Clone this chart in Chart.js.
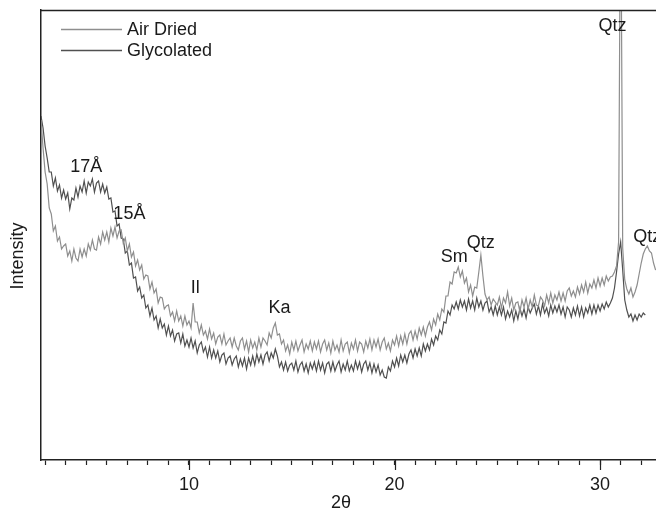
<!DOCTYPE html>
<html>
<head>
<meta charset="utf-8">
<script src="https://cdn.jsdelivr.net/npm/chart.js@4.4.0/dist/chart.umd.min.js"></script>
<style>
html,body{margin:0;padding:0;background:#fff;}
#wrap{width:656px;height:512px;position:relative;}
</style>
</head>
<body>
<div id="wrap"><canvas id="c" width="656" height="512"></canvas></div>
<script>
// 2θ (degrees)
const twoTheta = [
 2.8,2.9,
 3.0,3.1,3.2,3.3,3.4,3.5,3.6,3.7,3.8,3.9,
 4.0,4.1,4.2,4.3,4.4,4.5,4.6,4.7,4.8,4.9,
 5.0,5.1,5.2,5.3,5.4,5.5,5.6,5.7,5.8,5.9,
 6.0,6.1,6.2,6.3,6.4,6.5,6.6,6.7,6.8,6.9,
 7.0,7.1,7.2,7.3,7.4,7.5,7.6,7.7,7.8,7.9,
 8.0,8.1,8.2,8.3,8.4,8.5,8.6,8.7,8.8,8.9,
 9.0,9.1,9.2,9.3,9.4,9.5,9.6,9.7,9.8,9.9,
 10.0,10.1,10.2,10.3,10.4,10.5,10.6,10.7,10.8,10.9,
 11.0,11.1,11.2,11.3,11.4,11.5,11.6,11.7,11.8,11.9,
 12.0,12.1,12.2,12.3,12.4,12.5,12.6,12.7,12.8,12.9,
 13.0,13.1,13.2,13.3,13.4,13.5,13.6,13.7,13.8,13.9,
 14.0,14.1,14.2,14.3,14.4,14.5,14.6,14.7,14.8,14.9,
 15.0,15.1,15.2,15.3,15.4,15.5,15.6,15.7,15.8,15.9,
 16.0,16.1,16.2,16.3,16.4,16.5,16.6,16.7,16.8,16.9,
 17.0,17.1,17.2,17.3,17.4,17.5,17.6,17.7,17.8,17.9,
 18.0,18.1,18.2,18.3,18.4,18.5,18.6,18.7,18.8,18.9,
 19.0,19.1,19.2,19.3,19.4,19.5,19.6,19.7,19.8,19.9,
 20.0,20.1,20.2,20.3,20.4,20.5,20.6,20.7,20.8,20.9,
 21.0,21.1,21.2,21.3,21.4,21.5,21.6,21.7,21.8,21.9,
 22.0,22.1,22.2,22.3,22.4,22.5,22.6,22.7,22.8,22.9,
 23.0,23.1,23.2,23.3,23.4,23.5,23.6,23.7,23.8,23.9,
 24.0,24.1,24.2,24.3,24.4,24.5,24.6,24.7,24.8,24.9,
 25.0,25.1,25.2,25.3,25.4,25.5,25.6,25.7,25.8,25.9,
 26.0,26.1,26.2,26.3,26.4,26.5,26.6,26.7,26.8,26.9,
 27.0,27.1,27.2,27.3,27.4,27.5,27.6,27.7,27.8,27.9,
 28.0,28.1,28.2,28.3,28.4,28.5,28.6,28.7,28.8,28.9,
 29.0,29.1,29.2,29.3,29.4,29.5,29.6,29.7,29.8,29.9,
 30.0,30.1,30.2,30.3,30.4,30.5,30.6,30.7,30.8,30.9,
 31.0,31.1,31.2,31.3,31.4,31.5,31.6,31.7,31.8,31.9,
 32.0,32.1,32.2,32.3,32.4,32.5,32.6,32.7
];

// Intensity (arbitrary units), Air Dried
const airDried = [
 340,312,
 288,276,252,246,229,234,219,223,211,214,
 216,204,209,199,211,202,199,211,203,211,
 204,216,210,220,211,210,223,216,228,220,
 228,218,232,224,233,222,229,230,217,222,
 209,216,203,208,194,200,190,195,181,185,
 184,171,178,167,171,157,163,162,151,154,
 155,144,148,139,149,139,144,134,144,135,
 139,132,157,138,138,127,135,125,129,121,
 131,121,127,116,123,125,116,126,115,119,
 122,113,122,114,110,119,122,111,119,108,
 120,112,118,110,122,113,122,119,115,127,
 122,132,137,125,126,116,120,109,115,106,
 118,110,119,109,115,120,108,116,111,119,
 109,118,111,119,108,116,120,110,117,107,
 119,110,115,108,120,109,116,118,107,117,
 111,120,109,118,116,108,119,112,121,110,
 120,113,121,110,118,122,111,117,109,120,
 115,124,114,124,116,126,116,126,129,120,
 129,121,132,125,133,124,133,138,130,141,
 135,146,140,151,148,164,164,178,176,188,
 187,193,183,189,177,182,168,175,164,173,
 172,188,205,184,166,160,163,155,161,158,
 155,163,152,162,157,168,154,162,150,157,
 158,148,160,153,162,151,160,153,165,155,
 154,163,160,154,165,157,167,157,165,160,
 168,159,167,159,169,172,164,169,163,173,
 166,175,168,178,167,176,172,180,172,182,
 174,182,175,184,179,183,184,188,194,218,
 610,212,180,171,166,172,163,168,175,186,
 197,206,211,214,209,207,197,190
];

// Intensity (arbitrary units), Glycolated
const glycolated = [
 344,332,
 314,302,288,288,274,282,269,275,262,270,
 261,267,251,262,260,272,263,274,268,279,
 267,278,274,281,268,277,279,268,276,267,
 273,261,262,248,249,234,236,222,221,207,
 209,195,197,182,183,169,173,162,165,152,
 155,144,152,140,144,132,141,132,136,125,
 134,124,130,119,126,127,117,126,114,120,
 113,122,112,119,107,115,118,108,113,103,
 113,102,110,102,109,98,105,107,96,102,
 104,95,101,104,93,101,94,102,91,102,
 95,104,95,106,98,105,96,105,108,99,
 107,102,111,104,93,98,90,98,89,95,
 97,90,99,88,95,98,89,96,87,97,
 91,98,89,99,90,97,87,96,98,89,
 98,89,95,99,88,96,90,99,89,95,
 89,99,91,98,88,96,99,90,97,87,
 96,88,95,85,90,83,82,93,89,99,
 93,102,94,105,98,105,97,106,110,102,
 111,104,112,104,116,109,116,110,121,115,
 124,120,130,126,138,137,149,145,155,151,
 158,151,160,153,159,150,161,152,159,150,
 162,153,159,150,157,159,148,153,145,154,
 145,153,145,153,141,149,143,150,139,149,
 141,152,144,151,142,153,147,152,156,146,
 154,145,156,147,152,144,155,147,154,148,
 155,146,153,143,153,150,143,152,145,154,
 144,153,143,152,147,155,146,155,147,155,
 149,156,151,158,153,157,162,172,188,206,
 218,190,160,150,143,146,139,145,140,146,
 143,147,145,null,null,null,null,null
];

const seriesNames = ["Air Dried", "Glycolated"];
const seriesColors = ["#8e8e8e", "#505050"];

// Peak labels: [text, 2θ, intensity]
const peakLabels = [
  ["17Å", 5.0, 293],
  ["15Å", 7.1, 246],
  ["Il", 10.3, 172],
  ["Ka", 14.4, 152],
  ["Sm", 22.9, 203],
  ["Qtz", 24.2, 217],
  ["Qtz", 30.6, 434],
  ["Qtz", 32.3, 223]
];

const FONT = '"Liberation Sans", Arial, Helvetica, sans-serif';
const INK = '#1a1a1a';

const toXY = arr => twoTheta.map((t, i) => ({x: t, y: arr[i]}));

const overlay = {
  id: 'overlay',
  afterDraw(chart) {
    const ctx = chart.ctx;
    const xs = chart.scales.x, ys = chart.scales.y;
    const ca = chart.chartArea;
    ctx.save();
    // top frame line
    ctx.strokeStyle = '#222';
    ctx.lineWidth = 1.5;
    ctx.beginPath();
    ctx.moveTo(ca.left - 0.75, ca.top + 0.5);
    ctx.lineTo(ca.right, ca.top + 0.5);
    ctx.stroke();
    // longer major ticks
    ctx.lineWidth = 1.2;
    xs.ticks.forEach(t => {
      if (Math.abs(t.value % 10) < 1e-6) {
        const px = Math.round(xs.getPixelForValue(t.value)) + 0.5;
        ctx.beginPath();
        ctx.moveTo(px, ca.bottom);
        ctx.lineTo(px, ca.bottom + 10);
        ctx.stroke();
      }
    });
    // legend
    ctx.font = '18px ' + FONT;
    ctx.textBaseline = 'middle';
    ctx.textAlign = 'left';
    const legY = [29, 50];
    seriesNames.forEach((n, i) => {
      ctx.strokeStyle = seriesColors[i];
      ctx.lineWidth = 1.3;
      ctx.beginPath();
      ctx.moveTo(61, legY[i] + 0.5);
      ctx.lineTo(122, legY[i] + 0.5);
      ctx.stroke();
      ctx.fillStyle = INK;
      ctx.fillText(n, 127, legY[i] + 1);
    });
    // peak labels
    ctx.textAlign = 'center';
    peakLabels.forEach(([txt, tx, ty]) => {
      ctx.fillText(txt, xs.getPixelForValue(tx), ys.getPixelForValue(ty));
    });
    // axis titles
    ctx.fillText('2θ', 341, 503);
    ctx.translate(18, 256);
    ctx.rotate(-Math.PI / 2);
    ctx.fillText('Intensity', 0, 0);
    ctx.restore();
  }
};

new Chart(document.getElementById('c'), {
  type: 'line',
  data: {
    datasets: [
      {label: seriesNames[0], data: toXY(airDried), borderColor: seriesColors[0], borderWidth: 1.2, pointRadius: 0, tension: 0, spanGaps: false},
      {label: seriesNames[1], data: toXY(glycolated), borderColor: seriesColors[1], borderWidth: 1.2, pointRadius: 0, tension: 0, spanGaps: false}
    ]
  },
  options: {
    responsive: false,
    animation: false,
    events: [],
    layout: {padding: {top: 10, right: 0, left: 0, bottom: 0}},
    plugins: {legend: {display: false}, tooltip: {enabled: false}},
    scales: {
      x: {
        type: 'linear',
        min: 2.8,
        max: 32.72,
        afterFit: s => { s.height = 52; },
        grid: {display: true, drawOnChartArea: false, drawTicks: true, tickLength: 5, color: '#222', tickWidth: 1.2},
        border: {display: true, color: '#222', width: 1.5},
        ticks: {
          stepSize: 1,
          includeBounds: false,
          autoSkip: false,
          maxRotation: 0,
          padding: 9,
          color: INK,
          font: {family: FONT, size: 18},
          callback: v => (Math.abs(v % 10) < 1e-6 ? String(v) : '')
        }
      },
      y: {
        type: 'linear',
        min: 0,
        max: 450,
        afterFit: s => { s.width = 41; },
        grid: {display: false},
        border: {display: true, color: '#222', width: 1.5},
        ticks: {display: false}
      }
    }
  },
  plugins: [overlay]
});
</script>
</body>
</html>
